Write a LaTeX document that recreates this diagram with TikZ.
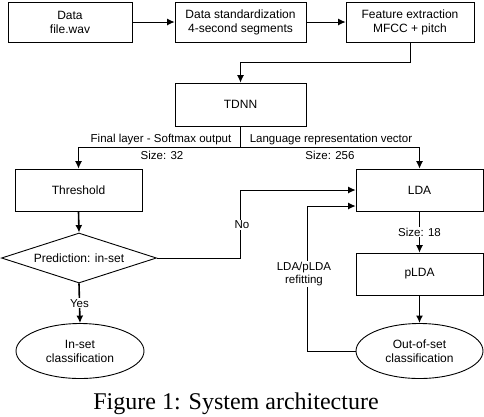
\documentclass[tikz,border=0pt]{standalone}
\usepackage{fontspec}
\setmainfont{Liberation Sans}
\newfontfamily\capfont{Liberation Serif}
\usetikzlibrary{shapes.geometric,arrows.meta}
\begin{document}
\begin{tikzpicture}[x=1bp,y=-1bp,
  every node/.style={font=\fontsize{12bp}{14bp}\selectfont},
  box/.style={draw,line width=0.9bp,align=center,inner sep=0pt},
  oval/.style={draw,ellipse,line width=0.9bp,align=center,inner sep=0pt,minimum width=128bp,minimum height=55bp},
  decide/.style={draw,diamond,line width=0.9bp,inner sep=0pt,minimum width=155bp,minimum height=50bp,aspect=3.1},
  lbl/.style={font=\fontsize{11.5bp}{13.5bp}\selectfont,inner sep=1bp},
  wlbl/.style={lbl,fill=white,align=center},
  arr/.style={line width=0.9bp,-{Latex[length=7.5bp,width=7bp]}},
  tarr/.style={line width=1.6bp,-{Latex[length=7.5bp,width=7bp]}},
  ln/.style={line width=0.9bp}]
\useasboundingbox (0,0) rectangle (484,416);
\clip (0,0) rectangle (484,416);
\node[box,minimum width=124bp,minimum height=40bp] (data) at (70,22) {Data\\file.wav};
\node[box,minimum width=131bp,minimum height=40bp] (std) at (240.5,22) {Data standardization\\4-second segments};
\node[box,minimum width=128bp,minimum height=40bp] (feat) at (410,22) {Feature extraction\\MFCC + pitch};
\node[box,minimum width=131bp,minimum height=43bp] (tdnn) at (240.5,104.5) {TDNN};
\node[box,minimum width=127bp,minimum height=42bp] (thr) at (78.5,190) {Threshold};
\node[box,minimum width=127bp,minimum height=42bp] (lda) at (419.5,190) {LDA};
\node[box,minimum width=127bp,minimum height=42bp] (plda) at (419.5,274) {pLDA};
\node[decide] (dia) at (79,258) {Prediction: in-set};
\node[oval] (inset) at (80,351) {In-set\\classification};
\node[oval,minimum width=127bp] (oos) at (419.5,351) {Out-of-set\\classification};
\draw[arr] (data) -- (std);
\draw[arr] (std) -- (feat);
\coordinate (fk) at (410,62);
\draw[arr] (feat.south) -- (fk) -| (tdnn.north);
\coordinate (br) at (240.5,147);
\draw[ln] (tdnn.south) -- (br);
\draw[arr] (br) -| (thr.north);
\draw[arr] (br) -| (lda.north);
\node[lbl] (l1) at (161,140) {Final layer - Softmax output};
\node[lbl] (l2) at (331,140) {Language representation vector};
\node[lbl] (l3) at (162,155) {Size: 32};
\node[lbl] (l4) at (330,155) {Size: 256};
\draw[tarr] (thr.south) -- (dia.north);
\draw[tarr] (dia.south) -- (inset.north) node[midway,wlbl] {Yes};
\coordinate (nk) at (240,190);
\draw[arr] (dia.east) -| (nk) -- (lda.west);
\node[wlbl] (no) at (242,225) {No};
\coordinate (rk) at (307,206);
\draw[arr] (oos.west) -| (rk) -- (rk -| lda.west);
\node[wlbl] (refit) at (304,274) {LDA/pLDA\\refitting};
\draw[arr] (lda.south) -- (plda.north) node[midway,wlbl] {Size: 18};
\draw[tarr] (plda.south) -- (oos.north);
\node[anchor=north,inner sep=0pt,font=\capfont\fontsize{24bp}{28bp}\selectfont] (cap) at (236,393) {Figure 1: System architecture};
\end{tikzpicture}
\end{document}
